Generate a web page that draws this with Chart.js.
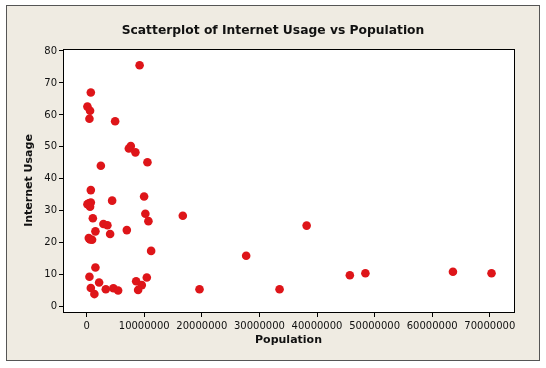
<!DOCTYPE html>
<html>
<head>
<meta charset="utf-8">
<script src="https://cdn.jsdelivr.net/npm/chart.js@4/dist/chart.umd.min.js"></script>
<style>
  html, body { margin: 0; padding: 0; background: #fff; }
  #wrap { width: 546px; height: 368px; }
</style>
</head>
<body>
<div id="wrap"><canvas id="mycanvas" width="546" height="368"></canvas></div>
<script>
// population (people) and internet usage (%)
var population = [
  9200000, 730000, 140000, 600000, 490000, 4950000, 7670000, 7330000, 8470000, 10560000,
  2470000, 730000, 9980000, 380000, 730000, 600000, 140000, 4430000, 1080000, 10200000,
  16700000, 10730000, 2920000, 3610000, 1530000, 4080000, 6980000, 380000, 950000, 600000,
  11200000, 1530000, 490000, 10450000, 8600000, 2170000, 9580000, 730000, 3330000, 4650000,
  5470000, 8940000, 1350000, 19600000, 27700000, 33500000, 38200000, 45700000, 48400000, 63600000,
  70300000
];
var usage = [
  75.5, 67.0, 62.6, 61.3, 58.8, 58.0, 50.3, 49.5, 48.3, 45.2,
  44.1, 36.5, 34.5, 32.4, 32.6, 31.3, 32.1, 33.2, 27.7, 29.1,
  28.5, 26.8, 25.9, 25.5, 23.6, 22.8, 24.0, 21.5, 21.0, 21.1,
  17.5, 12.3, 9.4, 9.2, 8.0, 7.6, 6.8, 5.9, 5.5, 5.8,
  5.1, 5.3, 4.0, 5.5, 16.0, 5.5, 25.4, 9.9, 10.5, 11.0,
  10.5
];
var xTicks = [0, 10000000, 20000000, 30000000, 40000000, 50000000, 60000000, 70000000];
var yTicks = [0, 10, 20, 30, 40, 50, 60, 70, 80];

var points = [];
for (var i in population) {
  points.push({x: population[i], y: usage[i]});
}

var frame = {
  id: 'frame',
  beforeDraw: function(chart) {
    var c = chart.ctx;
    c.save();
    c.fillStyle = '#fff';
    c.fillRect(0, 0, chart.width, chart.height);
    c.fillStyle = '#EFEBE2';
    c.fillRect(6, 5, 534, 356);
    c.strokeStyle = '#555';
    c.lineWidth = 1;
    c.strokeRect(6.5, 5.5, 533, 355);
    var a = chart.chartArea;
    c.fillStyle = '#fff';
    c.fillRect(a.left, a.top, a.right - a.left, a.bottom - a.top);
    c.restore();
  },
  afterDraw: function(chart) {
    var c = chart.ctx;
    var a = chart.chartArea;
    c.save();
    c.strokeStyle = '#000';
    c.lineWidth = 1;
    c.strokeRect(a.left + 0.5, a.top + 0.5, a.right - a.left, a.bottom - a.top);
    c.fillStyle = '#111';
    c.font = 'bold 12.3px "DejaVu Sans"';
    c.textAlign = 'center';
    c.textBaseline = 'middle';
    c.fillText('Scatterplot of Internet Usage vs Population', 273, 31);
    c.restore();
  }
};

var ctx = document.getElementById('mycanvas');
var chart = new Chart(ctx, {
  type: 'scatter',
  data: {
    datasets: [{
      label: 'Internet Usage',
      data: points,
      backgroundColor: '#DE1519',
      borderColor: '#DE1519',
      borderWidth: 0,
      pointRadius: 4.3,
      pointHoverRadius: 4.3
    }]
  },
  options: {
    responsive: false,
    animation: false,
    layout: { padding: { left: 6, right: 32, top: 49, bottom: 6 } },
    plugins: { legend: { display: false }, tooltip: { enabled: false } },
    scales: {
      x: {
        type: 'linear',
        min: -4100000,
        max: 74200000,
        afterBuildTicks: function(s) { s.ticks = xTicks.map(function(v) { return {value: v}; }); },
        afterFit: function(s) { s.height = 50; },
        grid: { display: true, drawOnChartArea: false, drawTicks: true, tickLength: 5, color: '#000' },
        border: { display: true, color: '#000' },
        ticks: {
          color: '#111', padding: 3, maxRotation: 0, autoSkip: false,
          font: { family: 'DejaVu Sans', size: 10 },
          callback: function(v) { return String(v); }
        },
        title: {
          display: true, text: 'Population', color: '#111',
          font: { family: 'DejaVu Sans', size: 11, weight: 'bold' },
          padding: { top: 0, bottom: 15 }
        }
      },
      y: {
        type: 'linear',
        min: -1.6,
        max: 80.6,
        afterBuildTicks: function(s) { s.ticks = yTicks.map(function(v) { return {value: v}; }); },
        afterFit: function(s) { s.width = 57; },
        grid: { display: true, drawOnChartArea: false, drawTicks: true, tickLength: 4, color: '#000' },
        border: { display: true, color: '#000' },
        ticks: {
          color: '#111', padding: 2, autoSkip: false,
          font: { family: 'DejaVu Sans', size: 10 },
          callback: function(v) { return String(v); }
        },
        title: {
          display: true, text: 'Internet Usage', color: '#111',
          font: { family: 'DejaVu Sans', size: 11, weight: 'bold' },
          padding: { top: 17, bottom: 0 }
        }
      }
    }
  },
  plugins: [frame]
});
</script>
</body>
</html>
